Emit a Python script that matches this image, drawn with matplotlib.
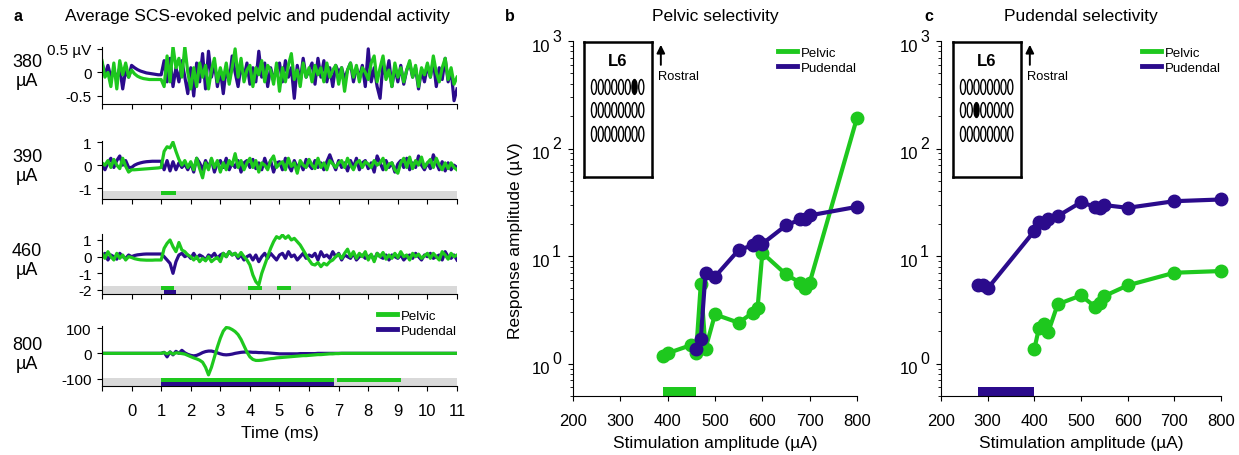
import numpy as np
import matplotlib
matplotlib.use("Agg")
import matplotlib.pyplot as plt
from matplotlib.lines import Line2D
from matplotlib.patches import Ellipse, Rectangle
from matplotlib.ticker import NullFormatter
from matplotlib.transforms import blended_transform_factory, offset_copy

plt.rcParams["font.family"] = ["Liberation Sans", "DejaVu Sans"]
plt.rcParams["axes.unicode_minus"] = False

GREEN = "#1ec81e"
PURPLE = "#2b0b8c"
GREY = "#d9d9d9"

# ---- panel a: averaged traces, one value every 0.1 ms from -1 to 11 ms ----
t_ms = np.round(np.arange(-1.0, 11.05, 0.1), 1)

pud_380 = [0.2, -0.05, 0.15, -0.1, 0.05, -0.15, 0.1, -0.35, 0.05, -0.1,
           0.15, 0.1, 0.06, 0.03, 0.01, -0.01, -0.02, -0.03, -0.04, -0.05, -0.05,
           0.25, -0.2, 0.3, -0.3, 0.1, -0.2, 0.25, -0.1, -0.45, 0.1,
           -0.5, 0.2, -0.2, 0.4, -0.35, 0.45, -0.1, 0.2, -0.3, 0.05,
           -0.45, 0.1, -0.2, 0.35, 0.0, -0.3, 0.15, -0.1, 0.2, -0.25,
           0.1, -0.2, 0.45, -0.1, 0.2, -0.3, 0.1, -0.15, 0.05, 0.2,
           -0.2, 0.25, -0.1, 0.1, -0.55, 0.15, -0.2, 0.3, -0.1, 0.05,
           0.2, -0.25, 0.3, -0.1, 0.25, -0.2, 0.1, -0.3, 0.15, 0.0,
           0.1, -0.15, 0.05, 0.2, -0.2, 0.1, -0.1, 0.15, -0.3, 0.5,
           -0.2, 0.1, -0.3, -0.55, 0.2, -0.1, 0.25, -0.3, 0.1, -0.2,
           0.15, -0.25, 0.05, 0.2, -0.1, 0.1, -0.35, 0.05, -0.2, 0.15,
           -0.1, 0.25, -0.3, 0.1, -0.15, 0.3, -0.2, 0.05, -0.6, -0.35]
pel_380 = [0.25, -0.1, 0.0, -0.3, 0.2, -0.35, 0.25, -0.05, 0.2, -0.1,
           0.05, -0.03, -0.08, -0.11, -0.13, -0.14, -0.15, -0.15, -0.15, -0.15, -0.15,
           -0.3, 0.35, -0.2, 0.55, 0.1, 0.3, -0.1, 0.55, 0.0, -0.35,
           0.1, -0.3, 0.2, -0.1, 0.15, -0.35, 0.05, 0.3, -0.2, 0.1,
           -0.15, 0.2, -0.25, 0.1, 0.5, -0.1, 0.3, -0.2, 0.05, 0.15,
           -0.3, 0.1, -0.05, 0.25, -0.2, 0.15, 0.05, -0.25, 0.2, -0.4,
           0.1, -0.2, 0.15, 0.4, -0.15, 0.05, -0.3, 0.2, -0.1, 0.1,
           -0.2, 0.15, -0.05, 0.1, -0.2, 0.2, -0.1, 0.05, 0.15, -0.25,
           0.1, -0.4, 0.05, 0.2, -0.1, 0.15, -0.2, 0.1, 0.0, -0.15,
           0.2, 0.35, -0.2, 0.1, 0.35, -0.15, 0.05, -0.3, 0.2, -0.1,
           0.1, -0.2, 0.05, 0.25, -0.1, 0.15, -0.3, 0.1, -0.05, 0.2,
           -0.1, 0.35, 0.0, -0.2, 0.1, 0.3, -0.15, 0.1, -0.25, -0.1]

pud_390 = [0.0, -0.2, 0.1, 0.3, -0.1, 0.2, 0.4, 0.0, 0.2, -0.1,
           -0.1, 0.0, 0.06, 0.1, 0.13, 0.15, 0.16, 0.17, 0.17, 0.17, 0.17,
           -0.2, 0.2, -0.25, 0.15, -0.2, 0.1, -0.1, 0.05, -0.2, 0.1,
           -0.3, 0.3, 0.1, -0.2, 0.2, -0.1, 0.25, -0.3, 0.1, 0.2,
           -0.1, 0.3, -0.2, 0.1, -0.1, 0.2, -0.3, 0.1, 0.2, -0.1,
           0.25, -0.15, 0.1, -0.2, 0.3, -0.1, 0.2, -0.3, 0.1, 0.15,
           -0.2, 0.3, 0.0, -0.25, 0.2, -0.1, 0.1, -0.2, 0.25, 0.0,
           -0.15, 0.2, -0.1, 0.1, -0.2, 0.15, 0.45, 0.1, -0.2, 0.2,
           -0.1, 0.1, -0.25, 0.2, -0.1, 0.3, -0.2, 0.1, 0.2, -0.15,
           0.1, -0.3, 0.4, 0.1, -0.2, 0.2, -0.1, 0.1, -0.3, 0.05,
           0.2, -0.1, 0.3, -0.2, 0.1, -0.1, 0.4, 0.0, -0.2, 0.1,
           -0.15, 0.45, 0.1, -0.2, 0.15, -0.25, 0.1, -0.2, 0.0, -0.1]
pel_390 = [0.1, 0.0, 0.2, -0.1, 0.25, 0.0, -0.15, 0.3, -0.05, -0.3,
           -0.2, -0.2, -0.19, -0.18, -0.17, -0.16, -0.15, -0.14, -0.13, -0.12, -0.1,
           0.6, 0.8, 0.75, 1.0, 0.6, 0.25, 0.0, 0.2, -0.1, 0.15,
           -0.2, 0.3, -0.15, -0.55, 0.1, -0.2, 0.3, -0.1, 0.2, -0.3,
           0.1, -0.2, 0.2, 0.0, 0.5, -0.1, 0.2, -0.2, 0.1, 0.3,
           -0.1, 0.2, -0.3, 0.1, 0.0, -0.2, 0.2, 0.4, -0.1, 0.05,
           0.15, -0.2, 0.3, -0.05, 0.1, -0.35, 0.2, 0.0, -0.1, 0.25,
           0.0, -0.15, 0.3, -0.1, 0.1, -0.2, 0.2, 0.05, -0.1, 0.1,
           0.2, -0.1, 0.3, 0.0, -0.2, 0.1, 0.2, -0.1, 0.15, 0.05,
           -0.1, 0.2, 0.0, 0.1, 0.3, -0.2, 0.05, 0.1, -0.2, -0.35,
           0.1, 0.3, -0.1, 0.35, -0.15, 0.2, 0.0, 0.35, -0.1, 0.1,
           0.25, -0.1, 0.3, 0.0, -0.2, 0.1, -0.15, 0.1, -0.1, -0.2]

pud_460 = [0.0, 0.2, -0.2, 0.1, 0.0, -0.15, 0.2, 0.0, -0.1, 0.1,
           0.0, 0.07, 0.11, 0.13, 0.15, 0.16, 0.16, 0.16, 0.16, 0.16, 0.16,
           0.0, -0.2, -0.4, -1.0, -0.3, 0.1, 0.2, 0.0, 0.1, -0.1,
           0.2, -0.1, 0.1, 0.0, -0.2, 0.1, 0.0, 0.2, -0.1, 0.1,
           0.2, 0.0, 0.3, 0.1, 0.2, -0.1, 0.1, -0.2, 0.0, 0.1,
           -0.2, 0.1, -0.3, 0.0, 0.2, -0.1, 0.2, 0.0, -0.2, 0.1,
           0.2, -0.1, 0.3, 0.0, 0.1, -0.2, 0.0, 0.2, -0.1, 0.1,
           0.0, 0.2, -0.2, 0.3, 0.0, 0.1, -0.1, 0.3, 0.0, 0.2,
           -0.2, 0.1, 0.0, -0.1, 0.2, -0.2, 0.0, 0.1, -0.1, 0.0,
           0.1, -0.2, 0.2, 0.0, -0.1, 0.1, -0.2, 0.1, 0.0, -0.1,
           0.1, -0.2, 0.0, 0.1, -0.1, 0.2, 0.0, -0.2, 0.1, 0.0,
           0.2, -0.1, 0.0, 0.1, -0.2, 0.3, 0.0, -0.1, 0.1, -0.2]
pel_460 = [0.2, -0.1, 0.3, 0.0, -0.2, 0.2, -0.1, 0.1, -0.2, 0.0,
           -0.05, -0.12, -0.16, -0.19, -0.2, -0.21, -0.21, -0.21, -0.2, -0.2, -0.2,
           0.5, 0.8, 1.0, 0.6, 0.3, 0.85, 0.4, 0.3, 0.1, 0.0,
           -0.2, 0.0, -0.3, -0.1, -0.25, 0.0, -0.3, -0.15, -0.05, -0.3,
           0.2, 0.0, 0.3, 0.1, 0.2, 0.0, 0.25, 0.0, -0.2, -0.5,
           -1.1, -1.5, -1.7, -1.0, -0.5, 0.0, 0.5, 0.9, 1.2, 1.1,
           1.3, 1.1, 1.25, 1.0, 1.1, 0.9, 0.7, 0.4, 0.1, -0.2,
           -0.45, -0.5, -0.35, -0.6, -0.4, -0.5, -0.3, -0.2, 0.0, 0.15,
           -0.1, 0.2, 0.45, 0.0, 0.3, -0.1, 0.2, 0.0, 0.3, -0.2,
           0.15, -0.3, 0.2, 0.0, 0.25, -0.15, 0.1, -0.1, 0.2, -0.05,
           0.3, 0.0, 0.1, -0.2, 0.2, 0.0, 0.15, -0.1, 0.05, 0.2,
           -0.1, 0.2, 0.0, -0.2, 0.3, 0.1, -0.15, 0.2, 0.0, 0.1]

pud_800 = [0] * 21 + [4, -14, 6, -6, 8, 0, 12, 2, -4, -8,
                      -10, -8, -3, 3, 7, 9, 9, 6, 2, -2,
                      -5, -6, -5, -3, 0, 2, 4, 5, 5, 5,
                      4, 4, 3, 3, 2, 2, 1, 0, -1, -2,
                      -2, -2, -2, -2, -2, -2, -1, -1, -1, -1,
                      -1, -1, 0, 0, 0, 0, 0, 0, 0, 0] + [0] * 40
pel_800 = [0] * 21 + [3, -2, 4, -3, 2, 1, -1, -3, -8, -13,
                      -18, -22, -27, -35, -55, -85, -55, -15, 25, 60,
                      88, 102, 100, 94, 86, 74, 55, 30, 5, -14,
                      -24, -28, -28, -27, -25, -23, -21, -20, -18, -17,
                      -16, -15, -14, -13, -12, -11, -10, -9, -9, -8,
                      -7, -6, -5, -5, -4, -3, -2, -2, -1, -1] + [0] * 40

stim_amps = ["380", "390", "460", "800"]
pudendal_traces = [pud_380, pud_390, pud_460, pud_800]
pelvic_traces = [pel_380, pel_390, pel_460, pel_800]
ytick_vals = [[-0.5, 0, 0.5], [-1, 0, 1], [-2, -1, 0, 1], [-100, 0, 100]]
ytick_txt = [["-0.5", "0", "0.5 µV"], ["-1", "0", "1"], ["-2", "-1", "0", "1"],
             ["-100", "0", "100"]]
# significant periods (ms)
sig_pelvic = [[], [(1.0, 1.5)], [(1.0, 1.45), (3.95, 4.4), (4.9, 5.4)],
              [(1.0, 6.85), (6.95, 9.1)]]
sig_pudendal = [[], [], [(1.1, 1.5)], [(1.0, 6.85)]]
time_ticks = list(range(-1, 12))
time_labels = [""] + [str(v) for v in range(0, 12)]

# ---- panels b and c: recruitment curves ----
pel_b_x = [390, 400, 450, 460, 470, 480, 500, 550, 580, 590, 600, 650, 680, 690, 700, 800]
pel_b_y = [1.19, 1.25, 1.49, 1.26, 5.5, 1.38, 2.87, 2.40, 2.98, 3.31, 10.7, 6.76,
           5.65, 5.08, 5.65, 193]
pud_b_x = [460, 470, 480, 500, 550, 580, 590, 600, 650, 680, 690, 700, 800]
pud_b_y = [1.38, 1.71, 7.0, 6.43, 11.4, 12.6, 13.8, 13.0, 19.3, 21.9, 21.9, 23.9, 28.7]

pel_c_x = [400, 410, 420, 430, 450, 500, 530, 540, 550, 600, 700, 800]
pel_c_y = [1.36, 2.16, 2.32, 1.98, 3.56, 4.31, 3.38, 3.69, 4.25, 5.34, 7.0, 7.26]
pud_c_x = [280, 290, 300, 400, 410, 420, 430, 450, 500, 530, 540, 550, 600, 700, 800]
pud_c_y = [5.38, 5.38, 5.0, 17.1, 20.7, 20.1, 21.9, 23.5, 31.7, 28.7, 27.9, 29.8,
           28.1, 32.4, 33.6]

sel_range_b = (390, 460)
sel_range_c = (280, 400)
active_b = (0, 6)
active_c = (1, 2)
stim_ticks = [200, 300, 400, 500, 600, 700, 800]
log_decades = [0, 1, 2, 3]

W, H = 1239, 456
fig = plt.figure(figsize=(W / 100, H / 100), dpi=100)


def add_ax(x0, y0, x1, y1):
    # pixel box measured from the top left -> figure fraction
    return fig.add_axes([x0 / W, 1 - y1 / H, (x1 - x0) / W, (y1 - y0) / H])


def legend(ax, anchor, spacing):
    ax.legend(handles=[Line2D([], [], color=GREEN, lw=3.5),
                       Line2D([], [], color=PURPLE, lw=3.5)],
              labels=["Pelvic", "Pudendal"], loc="upper right",
              bbox_to_anchor=anchor, frameon=False, fontsize=9.5,
              handlelength=1.45, handletextpad=0.3, labelspacing=spacing,
              borderpad=0, borderaxespad=0)


row_boxes = [(102, 48, 457, 105), (102, 142, 457, 200),
             (102, 235, 457, 295), (102, 327, 457, 387)]
row_ylims = [(-0.67, 0.54), (-1.47, 1.05), (-2.24, 1.36), (-129, 108)]
row_label_y = [72, 167, 261, 355]
band_h = 0.14

for i in range(4):
    ax = add_ax(*row_boxes[i])
    ax.plot(t_ms, pudendal_traces[i], color=PURPLE, lw=2.3)
    ax.plot(t_ms, pelvic_traces[i], color=GREEN, lw=2.3)
    ax.set_xlim(-1, 11)
    ax.set_ylim(*row_ylims[i])
    ax.set_yticks(ytick_vals[i])
    ax.set_yticklabels(ytick_txt[i])
    ax.set_xticks(time_ticks)
    ax.spines["top"].set_visible(False)
    ax.spines["right"].set_visible(False)
    ax.tick_params(axis="y", labelsize=11, pad=4)
    ax.tick_params(axis="x", labelsize=12, pad=9)
    trans = blended_transform_factory(ax.transData, ax.transAxes)
    if i > 0:
        ax.add_patch(Rectangle((-1, 0), 12, band_h, transform=trans,
                               color=GREY, lw=0, zorder=0))
    for t0, t1 in sig_pelvic[i]:
        ax.add_patch(Rectangle((t0, band_h / 2), t1 - t0, band_h / 2,
                               transform=trans, color=GREEN, lw=0, zorder=3))
    for t0, t1 in sig_pudendal[i]:
        ax.add_patch(Rectangle((t0, 0), t1 - t0, band_h / 2,
                               transform=trans, color=PURPLE, lw=0, zorder=3))
    if i < 3:
        ax.tick_params(labelbottom=False)
    else:
        ax.set_xticklabels(time_labels)
        ax.set_xlabel("Time (ms)", fontsize=12.5, labelpad=5)
        legend(ax, (1.0, 1.27), 0.2)
    fig.text(27 / W, 1 - row_label_y[i] / H, stim_amps[i] + "\nµA",
             ha="center", va="center", fontsize=13)

fig.text(257 / W, 1 - 16.5 / H, "Average SCS-evoked pelvic and pudendal activity",
         ha="center", va="center", fontsize=12.5)


def selectivity_panel(box, inset_box, title, pel_x, pel_y, pud_x, pud_y,
                      sel_range, sel_color, active, ylabel):
    ax = add_ax(*box)
    ax.plot(pel_x, pel_y, color=GREEN, lw=3, marker="o", ms=9, clip_on=False)
    ax.plot(pud_x, pud_y, color=PURPLE, lw=3, marker="o", ms=9, clip_on=False)
    ax.set_yscale("log")
    ax.set_ylim(0.5, 1000)
    ax.set_xlim(200, 800)
    ax.set_xticks(stim_ticks)
    ax.yaxis.set_major_formatter(NullFormatter())
    ax.spines["top"].set_visible(False)
    ax.spines["right"].set_visible(False)
    ax.tick_params(axis="x", labelsize=12, pad=9)
    ax.set_xlabel("Stimulation amplitude (µA)", fontsize=12.5, labelpad=5)
    # decade labels: "10" with a raised, nearly full-size exponent
    ytr = blended_transform_factory(ax.transAxes, ax.transData)
    for d in log_decades:
        ax.text(0, 10 ** d, "10", ha="right", va="center", fontsize=12,
                transform=offset_copy(ytr, fig=fig, x=-23, y=-5, units="dots"))
        ax.text(0, 10 ** d, str(d), ha="left", va="center", fontsize=11.5,
                transform=offset_copy(ytr, fig=fig, x=-21, y=5, units="dots"))
    if ylabel:
        ax.set_ylabel("Response amplitude (µV)", fontsize=12.5)
        ax.yaxis.set_label_coords(-0.175, 0.44)
    trans = blended_transform_factory(ax.transData, ax.transAxes)
    ax.add_patch(Rectangle((sel_range[0], 0), sel_range[1] - sel_range[0], 0.025,
                           transform=trans, color=sel_color, lw=0, clip_on=False))
    legend(ax, (1.0, 0.985), 0.25)
    fig.text((box[0] + box[2]) / 2 / W, 1 - 16.5 / H, title,
             ha="center", va="center", fontsize=12.5)

    # electrode array inset
    ins = add_ax(*inset_box)
    ins.set_xlim(0, 1)
    ins.set_ylim(0, 1)
    ins.set_xticks([])
    ins.set_yticks([])
    for s in ins.spines.values():
        s.set_linewidth(1.8)
    ins.text(0.5, 0.86, "L6", ha="center", va="center", fontsize=12,
             fontweight="bold")
    row_y = [0.667, 0.496, 0.319]
    for r in range(3):
        for c in range(8):
            filled = (r, c) == active
            ins.add_patch(Ellipse((0.147 + c * 0.0993, row_y[r]), 0.075, 0.11,
                                  facecolor="k" if filled else "none",
                                  edgecolor="k", lw=1.0))
    ins.annotate("", xy=(1.13, 1.0), xytext=(1.13, 0.81),
                 xycoords="axes fraction", annotation_clip=False,
                 arrowprops=dict(arrowstyle="-|>", color="k", lw=1.4,
                                 mutation_scale=12))
    ins.text(1.09, 0.75, "Rostral", transform=ins.transAxes, ha="left",
             va="center", fontsize=9.3, clip_on=False)


selectivity_panel((573, 42, 857, 397), (584, 43, 652, 178), "Pelvic selectivity",
                  pel_b_x, pel_b_y, pud_b_x, pud_b_y, sel_range_b, GREEN,
                  active_b, True)
selectivity_panel((941, 42, 1221, 397), (953, 43, 1021, 178), "Pudendal selectivity",
                  pel_c_x, pel_c_y, pud_c_x, pud_c_y, sel_range_c, PURPLE,
                  active_c, False)

for letter, x in [("a", 17.5), ("b", 510), ("c", 928.5)]:
    fig.text(x / W, 1 - 16.5 / H, letter, ha="center", va="center",
             fontsize=11.5, fontweight="bold")

fig.savefig("out.png", dpi=100)
